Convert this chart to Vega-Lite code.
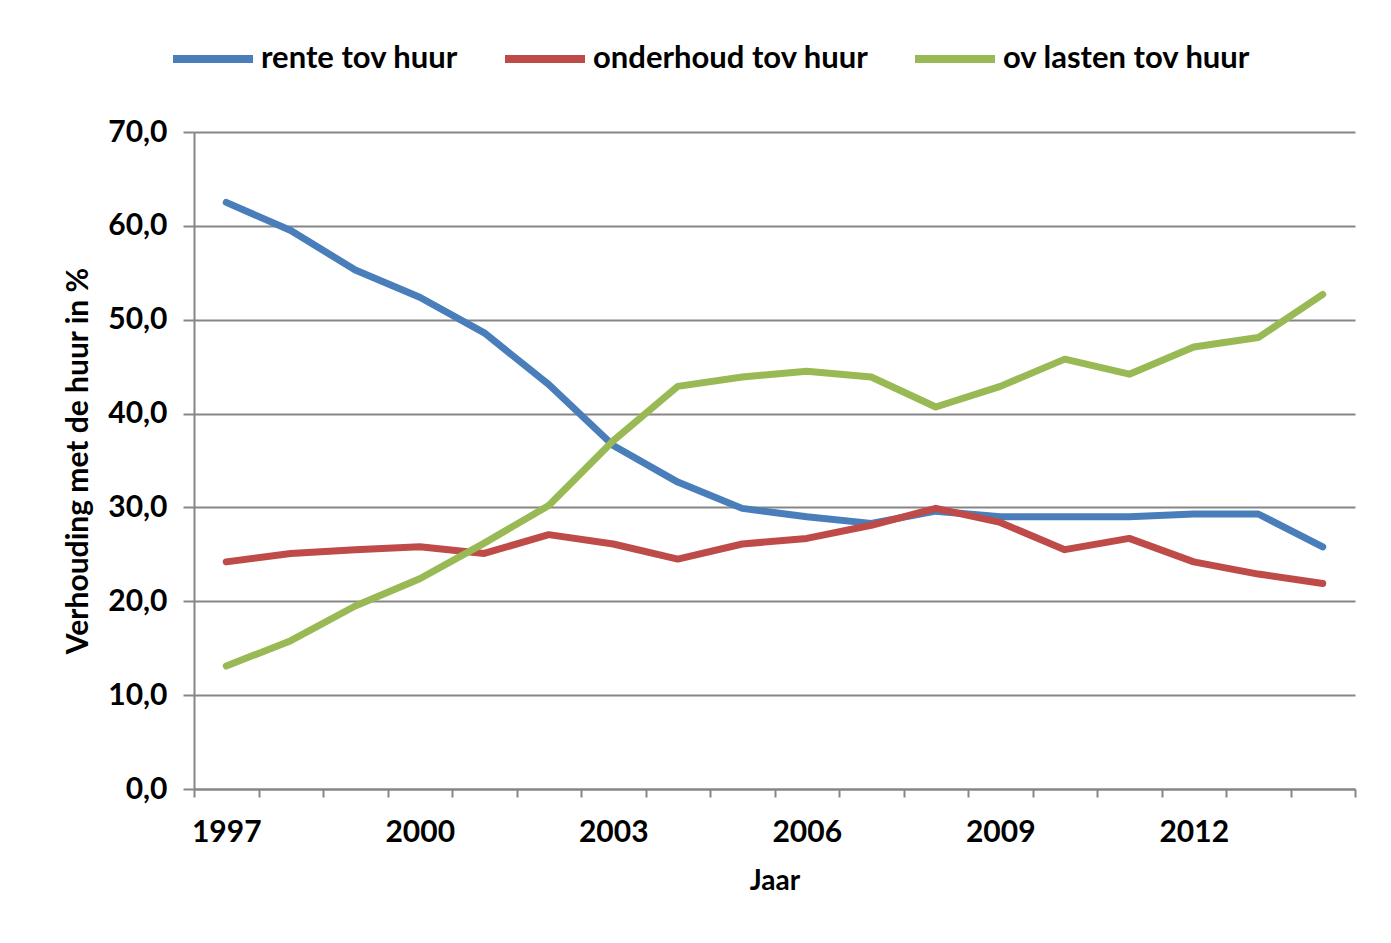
{
  "$schema": "https://vega.github.io/schema/vega-lite/v6.json",
  "width": 1161,
  "height": 657,
  "autosize": {"type": "none"},
  "padding": {"left": 194, "top": 132, "right": 36, "bottom": 154},
  "background": "white",
  "config": {
    "view": {"stroke": null},
    "font": "Lato",
    "axis": {"labelFont": "Lato", "titleFont": "Lato", "labelFontWeight": "bold", "titleFontWeight": "bold", "labelColor": "black", "titleColor": "black"},
    "legend": {"labelFont": "Lato", "labelFontWeight": "bold"}
  },
  "data": {
    "values": [
      {"jaar": "1997", "reeks": "rente tov huur", "waarde": 62.5},
      {"jaar": "1998", "reeks": "rente tov huur", "waarde": 59.5},
      {"jaar": "1999", "reeks": "rente tov huur", "waarde": 55.3},
      {"jaar": "2000", "reeks": "rente tov huur", "waarde": 52.4},
      {"jaar": "2001", "reeks": "rente tov huur", "waarde": 48.6},
      {"jaar": "2002", "reeks": "rente tov huur", "waarde": 43.1},
      {"jaar": "2003", "reeks": "rente tov huur", "waarde": 36.6},
      {"jaar": "2004", "reeks": "rente tov huur", "waarde": 32.7},
      {"jaar": "2005", "reeks": "rente tov huur", "waarde": 29.9},
      {"jaar": "2006", "reeks": "rente tov huur", "waarde": 29.0},
      {"jaar": "2007", "reeks": "rente tov huur", "waarde": 28.3},
      {"jaar": "2008", "reeks": "rente tov huur", "waarde": 29.6},
      {"jaar": "2009", "reeks": "rente tov huur", "waarde": 29.0},
      {"jaar": "2010", "reeks": "rente tov huur", "waarde": 29.0},
      {"jaar": "2011", "reeks": "rente tov huur", "waarde": 29.0},
      {"jaar": "2012", "reeks": "rente tov huur", "waarde": 29.3},
      {"jaar": "2013", "reeks": "rente tov huur", "waarde": 29.3},
      {"jaar": "2014", "reeks": "rente tov huur", "waarde": 25.8},
      {"jaar": "1997", "reeks": "onderhoud tov huur", "waarde": 24.2},
      {"jaar": "1998", "reeks": "onderhoud tov huur", "waarde": 25.1},
      {"jaar": "1999", "reeks": "onderhoud tov huur", "waarde": 25.5},
      {"jaar": "2000", "reeks": "onderhoud tov huur", "waarde": 25.8},
      {"jaar": "2001", "reeks": "onderhoud tov huur", "waarde": 25.1},
      {"jaar": "2002", "reeks": "onderhoud tov huur", "waarde": 27.1},
      {"jaar": "2003", "reeks": "onderhoud tov huur", "waarde": 26.1},
      {"jaar": "2004", "reeks": "onderhoud tov huur", "waarde": 24.5},
      {"jaar": "2005", "reeks": "onderhoud tov huur", "waarde": 26.1},
      {"jaar": "2006", "reeks": "onderhoud tov huur", "waarde": 26.7},
      {"jaar": "2007", "reeks": "onderhoud tov huur", "waarde": 28.1},
      {"jaar": "2008", "reeks": "onderhoud tov huur", "waarde": 29.9},
      {"jaar": "2009", "reeks": "onderhoud tov huur", "waarde": 28.4},
      {"jaar": "2010", "reeks": "onderhoud tov huur", "waarde": 25.5},
      {"jaar": "2011", "reeks": "onderhoud tov huur", "waarde": 26.7},
      {"jaar": "2012", "reeks": "onderhoud tov huur", "waarde": 24.2},
      {"jaar": "2013", "reeks": "onderhoud tov huur", "waarde": 22.9},
      {"jaar": "2014", "reeks": "onderhoud tov huur", "waarde": 21.9},
      {"jaar": "1997", "reeks": "ov lasten tov huur", "waarde": 13.1},
      {"jaar": "1998", "reeks": "ov lasten tov huur", "waarde": 15.8},
      {"jaar": "1999", "reeks": "ov lasten tov huur", "waarde": 19.5},
      {"jaar": "2000", "reeks": "ov lasten tov huur", "waarde": 22.4},
      {"jaar": "2001", "reeks": "ov lasten tov huur", "waarde": 26.2},
      {"jaar": "2002", "reeks": "ov lasten tov huur", "waarde": 30.2},
      {"jaar": "2003", "reeks": "ov lasten tov huur", "waarde": 37.1},
      {"jaar": "2004", "reeks": "ov lasten tov huur", "waarde": 42.9},
      {"jaar": "2005", "reeks": "ov lasten tov huur", "waarde": 43.9},
      {"jaar": "2006", "reeks": "ov lasten tov huur", "waarde": 44.5},
      {"jaar": "2007", "reeks": "ov lasten tov huur", "waarde": 43.9},
      {"jaar": "2008", "reeks": "ov lasten tov huur", "waarde": 40.7},
      {"jaar": "2009", "reeks": "ov lasten tov huur", "waarde": 42.9},
      {"jaar": "2010", "reeks": "ov lasten tov huur", "waarde": 45.8},
      {"jaar": "2011", "reeks": "ov lasten tov huur", "waarde": 44.2},
      {"jaar": "2012", "reeks": "ov lasten tov huur", "waarde": 47.1},
      {"jaar": "2013", "reeks": "ov lasten tov huur", "waarde": 48.1},
      {"jaar": "2014", "reeks": "ov lasten tov huur", "waarde": 52.7}
    ]
  },
  "mark": {"type": "line", "strokeWidth": 7, "strokeCap": "round", "strokeJoin": "round"},
  "encoding": {
    "x": {
      "field": "jaar",
      "type": "ordinal",
      "scale": {"type": "band", "paddingInner": 0, "paddingOuter": 0},
      "axis": {
        "title": "Jaar",
        "titleFontSize": 28,
        "titlePadding": 20,
        "labelFontSize": 30,
        "labelAngle": 0,
        "labelPadding": 20,
        "labelExpr": "(toNumber(datum.value) - 1997) % 3 == 0 ? datum.value : ''",
        "tickBand": "extent",
        "tickSize": 8,
        "tickWidth": 2,
        "tickColor": "#868686",
        "domainColor": "#868686",
        "domainWidth": 2,
        "grid": false
      }
    },
    "y": {
      "field": "waarde",
      "type": "quantitative",
      "scale": {"domain": [0, 70], "nice": false},
      "axis": {
        "title": "Verhouding met de huur in %",
        "titleFontSize": 30,
        "titlePadding": 14,
        "values": [0, 10, 20, 30, 40, 50, 60, 70],
        "labelExpr": "replace(format(datum.value, '.1f'), '.', ',')",
        "labelFontSize": 30,
        "labelPadding": 16,
        "tickSize": 11,
        "tickWidth": 2,
        "tickColor": "#868686",
        "domainColor": "#868686",
        "domainWidth": 2,
        "grid": true,
        "gridColor": "#868686",
        "gridWidth": 2
      }
    },
    "color": {
      "field": "reeks",
      "type": "nominal",
      "scale": {
        "domain": ["rente tov huur", "onderhoud tov huur", "ov lasten tov huur"],
        "range": ["#4A7EBB", "#BE4B48", "#98B954"]
      },
      "legend": {
        "title": null,
        "orient": "none",
        "direction": "horizontal",
        "legendX": -25,
        "legendY": -117,
        "symbolType": "stroke",
        "symbolSize": 6400,
        "symbolStrokeWidth": 8,
        "labelFontSize": 31,
        "labelOffset": 4,
        "columnPadding": 30,
        "labelLimit": 400
      }
    }
  }
}
